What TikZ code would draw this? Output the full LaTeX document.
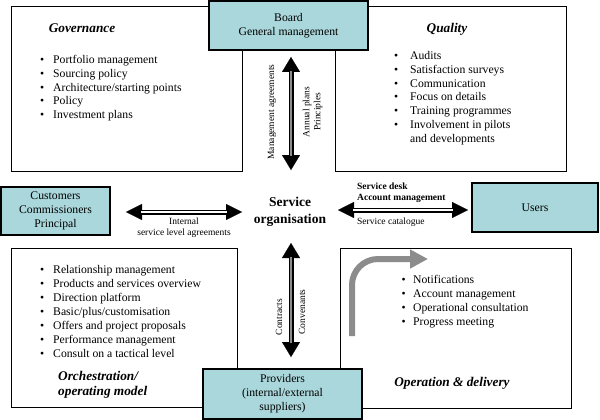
\documentclass[tikz,border=0pt]{standalone}
\usepackage{fontspec}
\setmainfont{Liberation Serif}
\usetikzlibrary{arrows.meta}
\definecolor{tealbox}{RGB}{170,215,219}
\definecolor{arrgray}{RGB}{140,140,140}
\newcommand{\bl}[1]{\makebox[#1][l]{\textbullet}}
\begin{document}
\begin{tikzpicture}[x=1pt,y=-1pt,
  box/.style={draw, line width=0.8pt, fill=white, inner sep=0pt},
  tbox/.style={draw, line width=1.1pt, fill=tealbox, align=center, font=\fontsize{11.7}{14}\selectfont},
  title/.style={font=\fontsize{13.3}{15}\selectfont\bfseries\itshape},
  blist/.style={anchor=base west, inner sep=0pt, font=\fontsize{11.7}{13.8}\selectfont},
  small/.style={font=\fontsize{9.5}{11}\selectfont, inner sep=0pt},
  bigarr/.style={line width=5pt, {Triangle[width=18pt,length=15pt,line width=0.1pt]}-{Triangle[width=18pt,length=15pt,line width=0.1pt]}},
  harr/.style={line width=5pt, {Triangle[width=16pt,length=16pt,line width=0.1pt]}-{Triangle[width=16pt,length=16pt,line width=0.1pt]}}]
\useasboundingbox (0,0) rectangle (600,420);
\fill[white] (0,0) rectangle (600,420);

% content boxes
\node[box, minimum width=231pt, minimum height=165pt] (gov) at (126.5,88.5) {};
\node[box, minimum width=231pt, minimum height=165pt] (qual) at (450.5,88.5) {};
\node[box, minimum width=226pt, minimum height=159pt] (orch) at (124,327.5) {};
\node[box, minimum width=231pt, minimum height=160pt] (oper) at (455.5,328) {};

% teal boxes
\node[tbox, minimum width=159pt, minimum height=49pt] (board) at (288.5,25.5) {Board\\General management};
\node[tbox, minimum width=109pt, minimum height=48pt] (cust) at (55.5,211) {Customers\\Commissioners\\Principal};
\node[tbox, minimum width=126pt, minimum height=49pt] (users) at (535,207.5) {Users};
\node[tbox, minimum width=159pt, minimum height=50pt] (prov) at (282.5,394) {Providers\\(internal/external\\suppliers)};

% centre
\node[font=\fontsize{13.5}{17}\selectfont\bfseries, align=center] (so) at (290,211.5) {Service\\organisation};

% titles
\node[title] (tgov) at (82,28) {Governance};
\node[title] (tqual) at (447,29) {Quality};
\node[title, anchor=west, align=left, inner sep=0pt] (torch) at (58,384.5) {Orchestration/\\[0pt]operating model};
\node[title] (toper) at (452,383) {Operation \& delivery};

% bullet lists
\node[blist] (lgov) at (40,63.5) {\begin{tabular}[t]{@{}l@{}l@{}}
\bl{13pt}&Portfolio management\\
\bl{13pt}&Sourcing policy\\
\bl{13pt}&Architecture/starting points\\
\bl{13pt}&Policy\\
\bl{13pt}&Investment plans
\end{tabular}};
\node[blist] (lqual) at (394,59.5) {\begin{tabular}[t]{@{}l@{}l@{}}
\bl{16pt}&Audits\\
\bl{16pt}&Satisfaction surveys\\
\bl{16pt}&Communication\\
\bl{16pt}&Focus on details\\
\bl{16pt}&Training programmes\\
\bl{16pt}&Involvement in pilots\\
&and developments
\end{tabular}};
\node[blist, font=\fontsize{11.7}{14}\selectfont] (lorch) at (40,273.5) {\begin{tabular}[t]{@{}l@{}l@{}}
\bl{13pt}&Relationship management\\
\bl{13pt}&Products and services overview\\
\bl{13pt}&Direction platform\\
\bl{13pt}&Basic/plus/customisation\\
\bl{13pt}&Offers and project proposals\\
\bl{13pt}&Performance management\\
\bl{13pt}&Consult on a tactical level
\end{tabular}};
\node[blist, font=\fontsize{11.7}{14}\selectfont] (loper) at (401.5,283.5) {\begin{tabular}[t]{@{}l@{}l@{}}
\bl{11.5pt}&Notifications\\
\bl{11.5pt}&Account management\\
\bl{11.5pt}&Operational consultation\\
\bl{11.5pt}&Progress meeting
\end{tabular}};

% arrow end points
\coordinate (t1) at (291,57);
\coordinate (t2) at (291,170);
\coordinate (b1) at (291,243);
\coordinate (b2) at (291,357);
\coordinate (l1) at (126,212);
\coordinate (l2) at (242,212);
\coordinate (r1) at (338,210);
\coordinate (r2) at (468,210);
\coordinate (g1) at (352,336);
\coordinate (g2) at (428,259);

% vertical arrows
\draw[bigarr] (t1) -- (t2);
\draw[arrgray, line width=2pt, shorten <=14pt, shorten >=14pt] (t1) -- (t2);
\draw[bigarr] (b1) -- (b2);
\draw[arrgray, line width=2pt, shorten <=14pt, shorten >=14pt] (b1) -- (b2);
% horizontal arrows
\draw[harr] (l1) -- (l2);
\draw[white, line width=1.6pt, shorten <=15pt, shorten >=15pt] (l1) -- (l2);
\draw[harr] (r1) -- (r2);
\draw[white, line width=1.6pt, shorten <=15pt, shorten >=15pt] (r1) -- (r2);

% grey bent arrow
\draw[arrgray, line width=6pt, rounded corners=26pt, -{Triangle[width=18pt,length=18pt]}] (g1) |- (g2);

% arrow labels
\node[small, rotate=90] (lma) at (272,112) {Management agreements};
\node[small, rotate=90, align=center] (lap) at (312.5,112) {Annual plans\\Principles};
\node[small, rotate=90] (lcon) at (279,317) {Contracts};
\node[small, rotate=90] (lconv) at (302,312) {Convenants};
\node[small, align=center] (lint) at (184,227.5) {Internal\\service level agreements};
\node[small, align=left, anchor=west, font=\fontsize{9.5}{11}\selectfont\bfseries] (lsd) at (357,192.5) {Service desk\\Account management};
\node[small, anchor=west] (lsc) at (357,222) {Service catalogue};
\end{tikzpicture}
\end{document}
